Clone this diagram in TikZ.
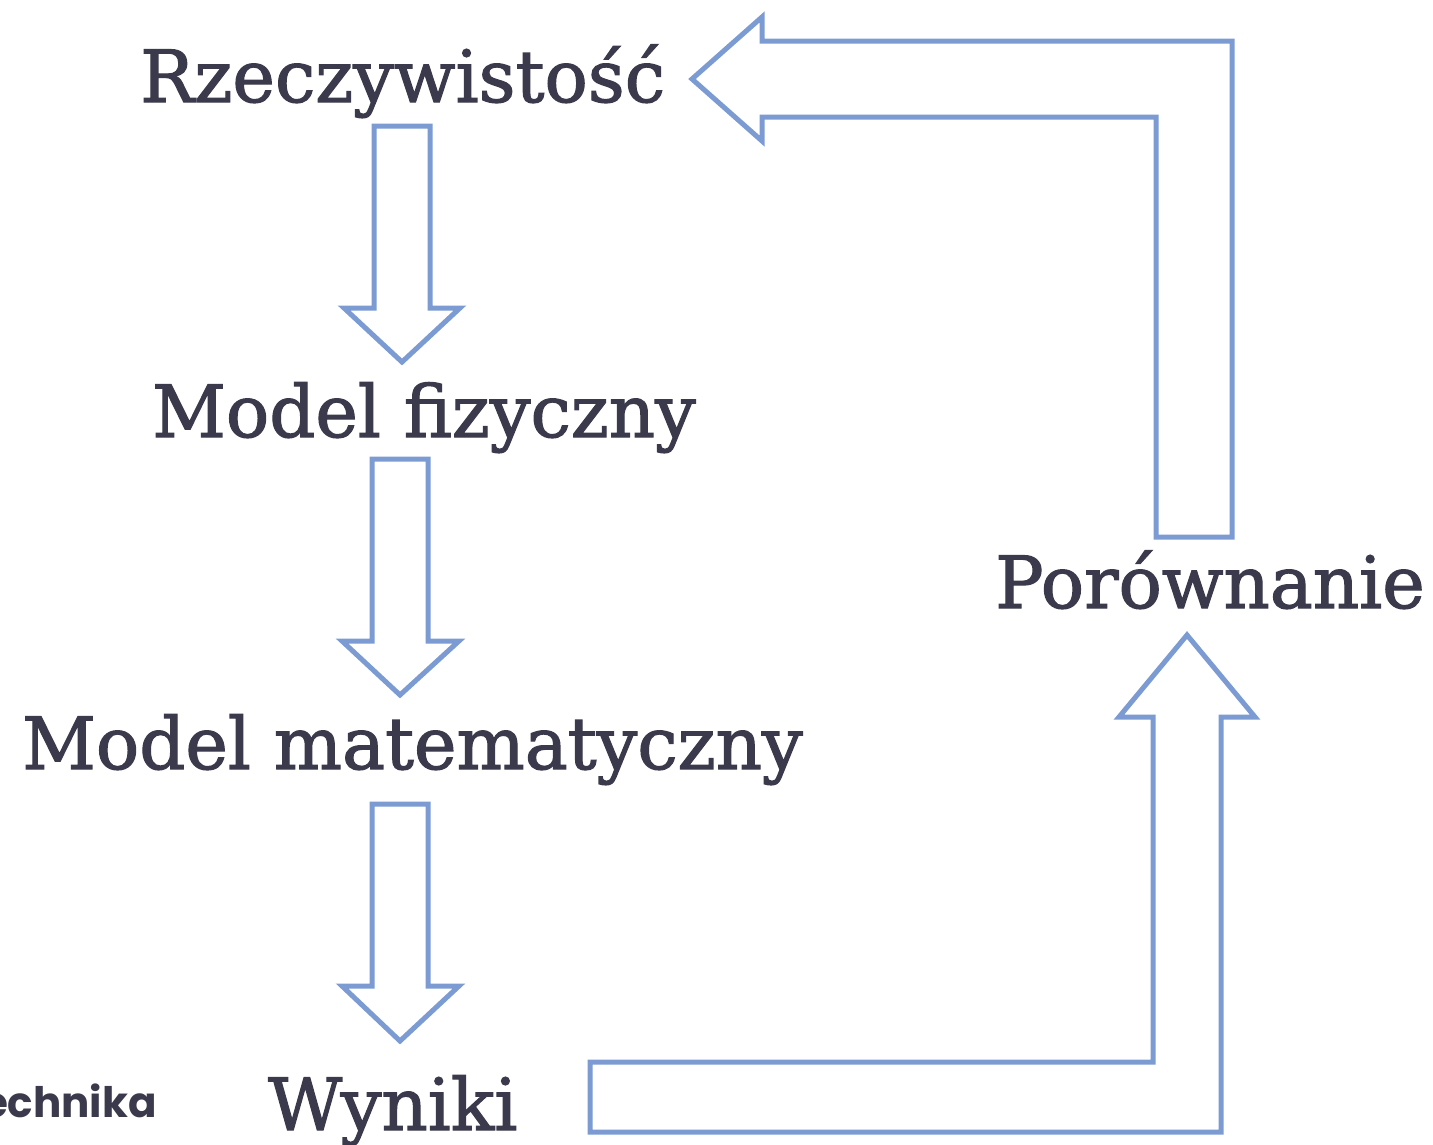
\documentclass[tikz,border=0pt]{standalone}
\usepackage{fontspec}
\setmainfont{DejaVu Serif}[BoldFont={DejaVu Serif},BoldFeatures={FakeBold=1.6}]
\newfontfamily\logofont{Poppins}
\definecolor{txt}{HTML}{3B3A4C}
\definecolor{arr}{HTML}{7B9BD2}
\begin{document}
\begin{tikzpicture}[x=1pt,y=-1pt,
  lbl/.style={anchor=base west,inner sep=0pt,text=txt,font=\bfseries\fontsize{72}{80}\selectfont},
  blockarrow/.style={draw=arr,line width=5pt,line join=miter,fill=white}]
\useasboundingbox (0,0) rectangle (1433,1144);
% labels
\node[lbl] (rz) at (140,102) {Rzeczywistość};
\node[lbl] (mf) at (152,437) {Model fizyczny};
\node[lbl] (mm) at (22,769) {Model matematyczny};
\node[lbl] (po) at (995,608) {Porównanie};
\node[lbl] (wy) at (268,1130) {Wyniki};
\node[anchor=base east,inner sep=0pt,text=txt,font=\logofont\bfseries\fontsize{42}{50}\selectfont] (logo) at (157,1117) {echnika};
% down arrows
\draw[blockarrow] (374,126) -- (430,126) -- (430,308) -- (460,308) -- (402,362) -- (344,308) -- (374,308) -- cycle;
\draw[blockarrow] (372,459) -- (428,459) -- (428,641) -- (459,641) -- (400,695) -- (342,641) -- (372,641) -- cycle;
\draw[blockarrow] (372,804) -- (428,804) -- (428,986) -- (459,986) -- (400,1041) -- (342,986) -- (372,986) -- cycle;
% bent arrow to Rzeczywistosc
\draw[blockarrow] (692,79) -- (762,17) -- (762,41) -- (1232,41) -- (1232,537) -- (1156,537) -- (1156,117) -- (762,117) -- (762,141) -- cycle;
% bent arrow from Wyniki to Porownanie
\draw[blockarrow] (590,1062) -- (1153,1062) -- (1153,717) -- (1119,717) -- (1187,635) -- (1255,717) -- (1221,717) -- (1221,1132) -- (590,1132) -- cycle;
\end{tikzpicture}
\end{document}
